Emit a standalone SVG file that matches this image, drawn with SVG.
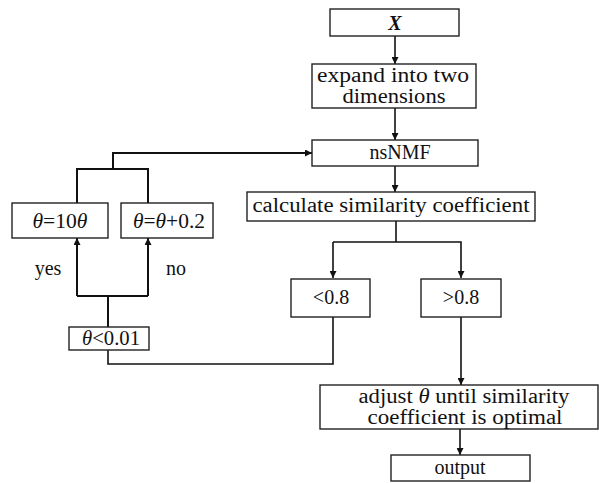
<svg xmlns="http://www.w3.org/2000/svg" width="599" height="483" viewBox="0 0 599 483">
<style>
.box{fill:#fff;stroke:#222;stroke-width:1.4}
.c{fill:none;stroke:#111;stroke-width:1.6}
.c2{fill:none;stroke:#111;stroke-width:2}
</style>
<defs>
<marker id="ah" viewBox="0 0 10 10" refX="10" refY="5" markerWidth="7" markerHeight="7" markerUnits="userSpaceOnUse" orient="auto">
<path d="M0,0 L10,5 L0,10 z" fill="#111"/>
</marker>
</defs>
<rect width="599" height="483" fill="#fff"/>
<g id="connectors">
<line class="c" x1="395" y1="36" x2="395" y2="64" marker-end="url(#ah)"/>
<line class="c" x1="395" y1="108" x2="395" y2="140" marker-end="url(#ah)"/>
<line class="c" x1="395" y1="166" x2="395" y2="192" marker-end="url(#ah)"/>
<polyline class="c" points="396,221 396,242"/>
<polyline class="c" points="333,242 461,242 461,278" marker-end="url(#ah)"/>
<line class="c" x1="333" y1="242" x2="333" y2="278" marker-end="url(#ah)"/>
<polyline class="c" points="333,317 333,364 108,364 108,350"/>
<line class="c" x1="461" y1="317" x2="461" y2="385" marker-end="url(#ah)"/>
<line class="c" x1="460" y1="429" x2="460" y2="455" marker-end="url(#ah)"/>
<polyline class="c2" points="108,327 108,296"/>
<polyline class="c2" points="77,296 148,296"/>
<line class="c2" x1="77" y1="296" x2="77" y2="238" marker-end="url(#ah)"/>
<line class="c2" x1="148" y1="296" x2="148" y2="238" marker-end="url(#ah)"/>
<polyline class="c2" points="77,203 77,169 148,169 148,203"/>
<polyline class="c2" points="113,169 113,153 312,153" marker-end="url(#ah)"/>
</g>
<g id="nX"><rect class="box" x="330" y="9" width="129" height="27"/><text font-family="Liberation Serif" font-size="20" text-anchor="middle" fill="#111" x="395" y="30" font-weight="bold" font-style="italic">X</text></g>
<g id="nExpand"><rect class="box" x="312" y="64" width="164" height="44"/><text font-family="Liberation Serif" font-size="20" text-anchor="middle" fill="#111" x="393" y="82" textLength="152" lengthAdjust="spacingAndGlyphs">expand into two</text><text font-family="Liberation Serif" font-size="20" text-anchor="middle" fill="#111" x="394" y="103" textLength="103" lengthAdjust="spacingAndGlyphs">dimensions</text></g>
<g id="nNsNMF"><rect class="box" x="312" y="140" width="166" height="26"/><text font-family="Liberation Serif" font-size="20" text-anchor="middle" fill="#111" x="400" y="159">nsNMF</text></g>
<g id="nCalc"><rect class="box" x="247" y="192" width="288" height="29"/><text font-family="Liberation Serif" font-size="20" text-anchor="middle" fill="#111" x="391" y="212" textLength="277" lengthAdjust="spacingAndGlyphs">calculate similarity coefficient</text></g>
<g id="nLt"><rect class="box" x="291" y="279" width="79" height="38"/><text font-family="Liberation Serif" font-size="20" text-anchor="middle" fill="#111" x="331" y="304">&lt;0.8</text></g>
<g id="nGt"><rect class="box" x="421" y="279" width="80" height="38"/><text font-family="Liberation Serif" font-size="20" text-anchor="middle" fill="#111" x="461" y="304">&gt;0.8</text></g>
<g id="nAdjust"><rect class="box" x="320" y="385" width="278" height="44"/><text font-family="Liberation Serif" font-size="20" text-anchor="middle" fill="#111" x="464" y="403" textLength="211" lengthAdjust="spacingAndGlyphs">adjust <tspan font-style="italic">θ</tspan> until similarity</text><text font-family="Liberation Serif" font-size="20" text-anchor="middle" fill="#111" x="465" y="424" textLength="195" lengthAdjust="spacingAndGlyphs">coefficient is optimal</text></g>
<g id="nOutput"><rect class="box" x="391" y="455" width="139" height="26"/><text font-family="Liberation Serif" font-size="20" text-anchor="middle" fill="#111" x="460" y="474">output</text></g>
<g id="nTheta10"><rect class="box" x="12" y="203" width="96" height="35"/><text font-family="Liberation Serif" font-size="20" text-anchor="middle" fill="#111" x="60" y="228" textLength="55" lengthAdjust="spacingAndGlyphs"><tspan font-style="italic">θ</tspan>=10<tspan font-style="italic">θ</tspan></text></g>
<g id="nThetaPlus"><rect class="box" x="121" y="203" width="92" height="35"/><text font-family="Liberation Serif" font-size="20" text-anchor="middle" fill="#111" x="169" y="228" textLength="72" lengthAdjust="spacingAndGlyphs"><tspan font-style="italic">θ</tspan>=<tspan font-style="italic">θ</tspan>+0.2</text></g>
<g id="nThetaLt"><rect class="box" x="69" y="327" width="80" height="23"/><text font-family="Liberation Serif" font-size="20" text-anchor="middle" fill="#111" x="111" y="345" textLength="58" lengthAdjust="spacingAndGlyphs"><tspan font-style="italic">θ</tspan>&lt;0.01</text></g>
<g id="labels"><text font-family="Liberation Serif" font-size="20" text-anchor="middle" fill="#111" x="48" y="275">yes</text><text font-family="Liberation Serif" font-size="20" text-anchor="middle" fill="#111" x="176" y="275">no</text></g>
</svg>
